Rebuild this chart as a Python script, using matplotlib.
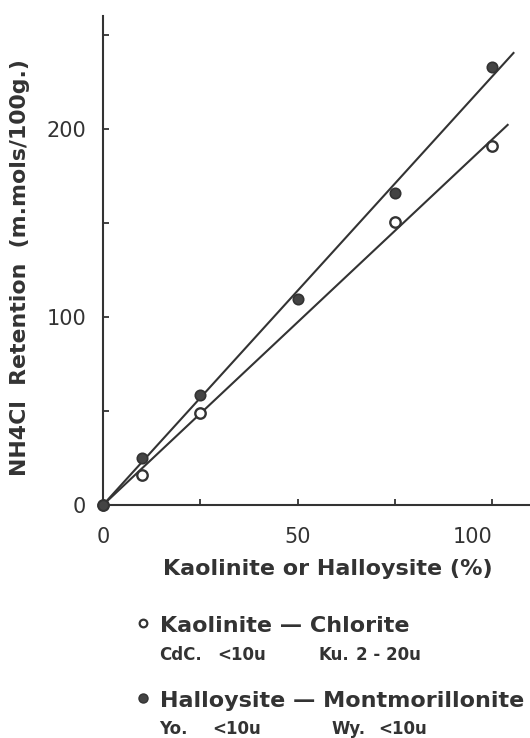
import numpy as np
import matplotlib.pyplot as plt

# NH4Cl retention vs clay content
pct_kaol = np.array([0, 10, 25, 75, 100])
ret_kaol = np.array([0, 16, 49, 150.5, 191])
pct_hall = np.array([0, 10, 25, 50, 75, 100])
ret_hall = np.array([0, 25, 58.5, 109.6, 166, 233])
line_end = [104, 105.5]  # how far each fitted line was drawn (kaolinite, halloysite)

xticks = [0, 50, 100]
yticks = [0, 100, 200]

ink = '#333333'
plt.rcParams['font.family'] = ['DejaVu Sans']

W, H = 530, 738
fig = plt.figure(figsize=(W / 100, H / 100), dpi=100)
ax = fig.add_axes([103 / W, 1 - 505 / H, 428 / W, 489 / H])

# straight lines through the origin (least squares)
for (px, ry, xe) in [(pct_kaol, ret_kaol, line_end[0]), (pct_hall, ret_hall, line_end[1])]:
    slope = np.sum(px * ry) / np.sum(px * px)
    xx = np.array([0, xe])
    ax.plot(xx, slope * xx, color=ink, lw=1.5, clip_on=False)

ax.plot(pct_kaol, ret_kaol, 'o', ms=7.5, mfc='white', mec=ink, mew=1.7, clip_on=False, zorder=3)
ax.plot(pct_hall, ret_hall, 'o', ms=7.5, mfc='#444444', mec=ink, mew=1.2, clip_on=False, zorder=3)

ax.set_xlim(0, 110)
ax.set_ylim(0, 260)
for s in ['top', 'right']:
    ax.spines[s].set_visible(False)
for s in ['left', 'bottom']:
    ax.spines[s].set_linewidth(1.5)
    ax.spines[s].set_color(ink)

ax.set_xticks(xticks)
ax.set_xticks([25, 75], minor=True)
ax.set_yticks(yticks)
ax.set_yticks([50, 150, 250], minor=True)
ax.set_xticklabels([str(v) for v in xticks], fontsize=15, color=ink)
ax.set_yticklabels([str(v) for v in yticks], fontsize=15, color=ink)
ax.get_xticklabels()[-1].set_horizontalalignment('right')
ax.tick_params(which='both', direction='in', length=4.5, width=1.3, color=ink)
ax.tick_params(axis='x', pad=16)
ax.tick_params(axis='y', pad=12)

ax.set_xlabel('Kaolinite or Halloysite (%)', fontsize=16, fontweight='bold', color=ink)
ax.xaxis.label.set_va('baseline')
ax.xaxis.set_label_coords((328 - 103) / 428, (505 - 575) / 489)
ax.set_ylabel('NH4Cl  Retention  (m.mols/100g.)', fontsize=15.8, fontweight='bold', color=ink)
ax.yaxis.label.set_va('center')
ax.yaxis.set_label_coords((20 - 103) / 428, (505 - 268) / 489)

# hand-lettered key under the plot
def fx(px):
    return px / W

def fy(py):
    return 1 - py / H

ax.plot([fx(143)], [fy(623)], 'o', ms=5.5, mfc='white', mec=ink, mew=1.6,
        transform=fig.transFigure, clip_on=False)
ax.plot([fx(143)], [fy(698)], 'o', ms=6.5, mfc='#444444', mec=ink, mew=1,
        transform=fig.transFigure, clip_on=False)

fig.text(fx(160), fy(632), 'Kaolinite — Chlorite', fontsize=16, fontweight='bold',
         color=ink, va='baseline')
fig.text(fx(160), fy(707), 'Halloysite — Montmorillonite', fontsize=16, fontweight='bold',
         color=ink, va='baseline')

sub = [('CdC.', 159, 660), ('<10u', 217, 660), ('Ku.', 318, 660), ('2 - 20u', 356, 660),
       ('Yo.', 159, 734), ('<10u', 212, 734), ('Wy.', 332, 734), ('<10u', 378, 734)]
for t, x, y in sub:
    fig.text(fx(x), fy(y), t, fontsize=12, fontweight='bold', color=ink, va='baseline')

fig.savefig('out.png', dpi=100, facecolor='white')
